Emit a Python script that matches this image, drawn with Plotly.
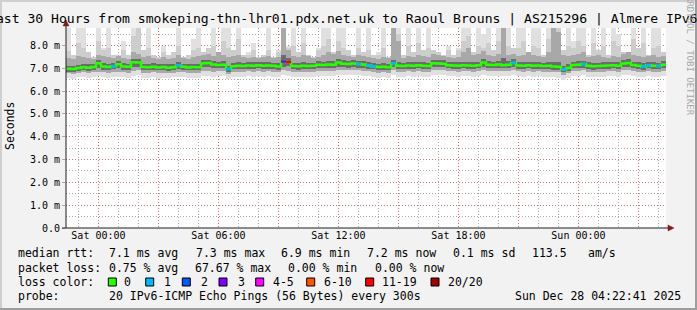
import plotly.graph_objects as go
import pandas as pd

TITLE = "Last 30 Hours from smokeping-thn-lhr01.pdx.net.uk to Raoul Brouns | AS215296 | Almere IPv6"
START = "2025-12-26 22:22:41"
END_LABEL = "Sun Dec 28 04:22:41 2025"

# ---------------- data (ms), one value per 15 minute step ----------------
median = [6.98, 6.97, 7.02, 7.05, 7.03, 7.06, 7.22, 7.08, 7.06, 7.09,
          7.18, 7.08, 7.07, 7.27, 7.26, 7.06, 7.05, 7.07, 7.04, 7.06,
          7.03, 7.05, 7.13, 7.07, 7.04, 7.06, 7.05, 7.22, 7.23, 7.17,
          7.15, 7.16, 6.97, 7.09, 7.11, 7.10, 7.13, 7.12, 7.14, 7.12,
          7.13, 7.11, 7.08, 7.30, 7.28, 7.10, 7.09, 7.12, 7.10, 7.11,
          7.16, 7.15, 7.17, 7.16, 7.26, 7.20, 7.19, 7.21, 7.19, 7.17,
          7.13, 7.09, 7.06, 7.07, 7.05, 7.22, 7.12, 7.10, 7.13, 7.11,
          7.14, 7.12, 7.10, 7.22, 7.21, 7.20, 7.14, 7.13, 7.12, 7.14,
          7.13, 7.12, 7.14, 7.26, 7.16, 7.15, 7.17, 7.14, 7.16, 7.24,
          7.13, 7.12, 7.14, 7.11, 7.13, 7.10, 7.12, 7.08, 7.07, 6.96,
          7.02, 7.15, 7.16, 7.19, 7.11, 7.09, 7.10, 7.12, 7.13, 7.14,
          7.12, 7.21, 7.24, 7.15, 7.11, 7.08, 7.14, 7.12, 7.10, 7.16]

loss = [0, 0, 0, 0, 0, 0, 0, 0, 0, 1, 0, 0, 0, 0, 0, 0, 0, 0, 0, 0,
        0, 0, 1, 0, 0, 0, 0, 0, 0, 0, 0, 0, 1, 0, 0, 0, 0, 0, 0, 0,
        0, 0, 0, 3, 15, 0, 0, 0, 0, 0, 0, 0, 0, 0, 0, 0, 0, 0, 1, 0,
        1, 1, 0, 0, 0, 1, 0, 0, 0, 0, 0, 0, 0, 0, 0, 0, 0, 0, 0, 0,
        0, 0, 0, 0, 0, 0, 0, 0, 0, 1, 0, 0, 0, 0, 0, 0, 0, 0, 0, 1,
        0, 0, 0, 1, 0, 0, 0, 0, 0, 0, 0, 0, 0, 0, 0, 1, 1, 0, 1, 0]

q_25 = [6.86, 6.84, 6.90, 6.92, 6.90, 6.93, 7.02, 6.95, 6.93, 6.96,
        7.00, 6.95, 6.94, 7.06, 7.08, 6.93, 6.92, 6.94, 6.91, 6.93,
        6.90, 6.92, 6.98, 6.94, 6.91, 6.93, 6.92, 7.04, 7.05, 7.01,
        7.00, 7.01, 6.84, 6.96, 6.98, 6.97, 6.99, 6.98, 7.00, 6.98,
        6.99, 6.97, 6.95, 7.08, 7.10, 6.96, 6.95, 6.98, 6.96, 6.97,
        7.01, 7.00, 7.02, 7.01, 7.08, 7.04, 7.03, 7.05, 7.03, 7.02,
        6.99, 6.96, 6.93, 6.94, 6.92, 7.05, 6.98, 6.96, 6.99, 6.97,
        7.00, 6.98, 6.96, 7.05, 7.05, 7.04, 7.00, 6.99, 6.98, 7.00,
        6.99, 6.98, 7.00, 7.08, 7.01, 7.00, 7.02, 7.00, 7.01, 7.06,
        6.99, 6.98, 7.00, 6.97, 6.99, 6.96, 6.98, 6.95, 6.94, 6.83,
        6.89, 7.00, 7.01, 7.03, 6.97, 6.95, 6.96, 6.98, 6.99, 7.00,
        6.98, 7.04, 7.06, 7.00, 6.97, 6.94, 7.00, 6.98, 6.96, 7.01]

q_75 = [7.12, 7.11, 7.16, 7.20, 7.17, 7.21, 7.36, 7.22, 7.20, 7.24,
        7.32, 7.22, 7.21, 7.42, 7.40, 7.20, 7.19, 7.22, 7.18, 7.20,
        7.17, 7.20, 7.28, 7.21, 7.18, 7.20, 7.19, 7.37, 7.38, 7.31,
        7.29, 7.31, 7.12, 7.23, 7.26, 7.24, 7.28, 7.26, 7.29, 7.26,
        7.27, 7.25, 7.22, 7.60, 7.45, 7.24, 7.23, 7.27, 7.24, 7.25,
        7.31, 7.30, 7.33, 7.31, 7.41, 7.35, 7.34, 7.36, 7.34, 7.32,
        7.28, 7.24, 7.20, 7.22, 7.19, 7.38, 7.27, 7.25, 7.28, 7.26,
        7.29, 7.27, 7.25, 7.37, 7.36, 7.35, 7.29, 7.28, 7.27, 7.29,
        7.28, 7.27, 7.29, 7.42, 7.31, 7.30, 7.33, 7.45, 7.31, 7.39,
        7.28, 7.27, 7.29, 7.26, 7.28, 7.25, 7.28, 7.30, 7.26, 7.11,
        7.17, 7.30, 7.31, 7.34, 7.26, 7.24, 7.25, 7.27, 7.28, 7.29,
        7.27, 7.36, 7.39, 7.30, 7.26, 7.23, 7.29, 7.27, 7.25, 7.31]

q_lo = [6.78, 6.76, 6.80, 6.82, 6.79, 6.83, 6.86, 6.84, 6.81, 6.83, 6.86, 6.82, 6.81, 6.90, 6.92, 6.80, 6.79, 6.82, 6.78, 6.80,
        6.79, 6.81, 6.86, 6.82, 6.79, 6.81, 6.80, 6.88, 6.90, 6.86, 6.87, 6.88, 6.74, 6.84, 6.86, 6.85, 6.87, 6.86, 6.88, 6.86,
        6.87, 6.85, 6.83, 6.92, 6.90, 6.84, 6.83, 6.86, 6.84, 6.85, 6.89, 6.88, 6.90, 6.89, 6.95, 6.92, 6.91, 6.93, 6.91, 6.90,
        6.87, 6.84, 6.81, 6.82, 6.80, 6.92, 6.86, 6.84, 6.87, 6.85, 6.88, 6.86, 6.84, 6.92, 6.92, 6.91, 6.88, 6.87, 6.86, 6.88,
        6.87, 6.86, 6.88, 6.94, 6.89, 6.88, 6.90, 6.87, 6.89, 6.93, 6.87, 6.86, 6.88, 6.85, 6.87, 6.84, 6.86, 6.83, 6.82, 6.72,
        6.78, 6.88, 6.89, 6.91, 6.85, 6.83, 6.84, 6.86, 6.87, 6.88, 6.86, 6.92, 6.94, 6.88, 6.85, 6.82, 6.88, 6.86, 6.84, 6.89]

q_hi = [7.45, 7.40, 7.55, 7.50, 7.45, 7.40, 7.60, 7.55, 7.50, 7.45, 7.55, 7.45, 7.40, 7.70, 7.65, 7.50, 7.55, 7.45, 7.40, 7.50,
        7.42, 7.45, 7.60, 7.45, 7.40, 7.50, 7.55, 7.60, 7.65, 7.55, 7.70, 7.60, 7.50, 7.55, 7.60, 7.50, 7.45, 7.50, 7.45, 7.50,
        7.55, 7.45, 7.50, 8.80, 7.80, 7.55, 7.50, 7.60, 7.55, 7.45, 7.50, 7.60, 7.70, 7.65, 7.75, 7.60, 7.55, 7.50, 7.60, 7.55,
        7.50, 7.45, 7.40, 7.50, 7.45, 8.80, 8.20, 7.45, 7.55, 7.50, 7.60, 7.55, 7.50, 7.65, 7.60, 7.55, 7.50, 7.45, 7.50, 7.70,
        7.90, 7.60, 7.65, 7.75, 7.60, 7.55, 7.65, 8.80, 7.60, 7.65, 7.55, 7.60, 7.70, 7.60, 7.55, 7.50, 7.70, 8.80, 8.60, 7.60,
        7.55, 7.60, 7.65, 7.70, 7.50, 7.55, 7.60, 7.50, 7.45, 7.55, 7.50, 7.65, 7.70, 7.60, 7.55, 7.50, 7.55, 7.60, 7.50, 7.55]

q_hi2 = [7.75, 7.6, 8.1, 7.9, 7.7, 7.5, 8.2, 7.8, 7.9, 7.6, 7.6, 7.8, 7.6, 8.4, 8.8, 7.8, 7.9, 7.6, 7.5, 7.7,
         7.6, 7.7, 8.0, 7.5, 7.6, 7.8, 7.9, 7.7, 7.9, 8.0, 7.7, 8.2, 7.9, 7.8, 8.3, 7.6, 7.6, 7.8, 7.5, 7.6,
         7.8, 7.5, 7.7, 8.8, 7.9, 8.0, 7.7, 8.1, 7.6, 7.5, 7.8, 8.0, 8.3, 7.7, 8.2, 7.9, 7.8, 7.6, 7.9, 7.7,
         7.8, 7.6, 7.6, 7.9, 7.5, 8.8, 8.5, 7.6, 8.0, 7.7, 8.1, 7.8, 7.9, 7.8, 7.7, 7.6, 7.8, 7.6, 7.8, 8.2,
         8.4, 7.7, 8.0, 7.9, 8.1, 7.8, 8.2, 8.8, 8.0, 7.9, 7.9, 8.2, 7.7, 8.0, 7.9, 7.6, 8.3, 8.8, 8.8, 7.8,
         8.0, 7.9, 8.2, 8.0, 7.6, 8.1, 7.8, 8.0, 7.6, 8.2, 8.0, 7.7, 7.6, 8.3, 7.9, 8.1, 7.6, 7.9, 8.0, 7.7]

q_min = [6.58, 6.55, 6.60, 6.62, 6.57, 6.63, 6.66, 6.62, 6.59, 6.61, 6.64, 6.60, 6.58, 6.68, 6.70, 6.58, 6.56, 6.60, 6.55, 6.58,
         6.57, 6.60, 6.64, 6.60, 6.56, 6.59, 6.58, 6.66, 6.68, 6.64, 6.65, 6.66, 6.52, 6.62, 6.64, 6.63, 6.66, 6.64, 6.66, 6.64,
         6.65, 6.63, 6.60, 6.70, 6.66, 6.62, 6.61, 6.64, 6.62, 6.63, 6.67, 6.66, 6.68, 6.67, 6.72, 6.70, 6.69, 6.71, 6.69, 6.68,
         6.65, 6.62, 6.58, 6.60, 6.58, 6.70, 6.64, 6.62, 6.65, 6.63, 6.66, 6.64, 6.62, 6.70, 6.70, 6.69, 6.66, 6.65, 6.64, 6.66,
         6.65, 6.64, 6.66, 6.72, 6.67, 6.66, 6.68, 6.65, 6.67, 6.70, 6.65, 6.64, 6.66, 6.63, 6.65, 6.62, 6.64, 6.60, 6.59, 6.50,
         6.56, 6.66, 6.67, 6.69, 6.63, 6.61, 6.62, 6.64, 6.65, 6.66, 6.64, 6.70, 6.72, 6.66, 6.63, 6.60, 6.66, 6.64, 6.62, 6.67]

q_max = [8.8, 7.6, 8.8, 8.8, 7.7, 7.5, 8.8, 7.9, 8.8, 7.6, 7.5, 8.2, 7.6, 8.8, 8.8, 7.8, 8.8, 7.6, 7.5, 8.0,
         7.6, 7.7, 8.8, 7.5, 7.6, 8.3, 8.8, 7.6, 7.9, 8.8, 7.7, 8.8, 8.8, 7.8, 8.8, 7.6, 7.7, 8.1, 7.5, 7.6,
         8.8, 7.5, 7.8, 8.8, 8.0, 8.8, 7.7, 8.8, 7.6, 7.5, 7.9, 8.8, 8.8, 7.7, 8.8, 8.8, 7.8, 7.6, 8.8, 7.7,
         8.8, 7.6, 7.7, 8.8, 7.5, 8.8, 8.8, 7.6, 8.8, 7.7, 8.8, 7.8, 8.8, 7.6, 7.7, 7.5, 8.0, 7.6, 7.9, 8.8,
         8.8, 7.7, 8.8, 8.5, 8.8, 7.8, 8.8, 8.8, 8.8, 7.9, 8.8, 8.8, 7.7, 8.8, 8.8, 7.6, 8.8, 8.8, 8.8, 7.8,
         8.8, 8.2, 8.8, 8.8, 7.6, 8.8, 7.8, 8.8, 7.6, 8.8, 8.5, 7.7, 7.6, 8.8, 7.9, 8.8, 7.6, 8.8, 8.8, 7.7]

y_tickvals = [0, 1, 2, 3, 4, 5, 6, 7, 8]
y_ticktext = ["0.0", "1.0 m", "2.0 m", "3.0 m", "4.0 m", "5.0 m", "6.0 m", "7.0 m", "8.0 m"]
x_tickvals = ["2025-12-27 00:00", "2025-12-27 03:00", "2025-12-27 06:00", "2025-12-27 09:00",
              "2025-12-27 12:00", "2025-12-27 15:00", "2025-12-27 18:00", "2025-12-27 21:00",
              "2025-12-28 00:00", "2025-12-28 03:00"]
x_ticktext = ["Sat 00:00", "", "Sat 06:00", "", "Sat 12:00", "", "Sat 18:00", "", "Sun 00:00", ""]

loss_bins = [(0, 0, "0", "#26ff00"), (1, 1, "1", "#00b8ff"), (2, 2, "2", "#0059ff"),
             (3, 3, "3", "#7e00ff"), (4, 5, "4-5", "#ff00ff"), (6, 10, "6-10", "#ff5500"),
             (11, 19, "11-19", "#ff0000"), (20, 20, "20/20", "#a10000")]

stats_rows = [
    [(16, "median rtt:"), (107.3, "7.1 ms avg"), (194, "7.3 ms max"), (279.3, "6.9 ms min"),
     (365, "7.2 ms now"), (451, "0.1 ms sd"), (530, "113.5"), (586, "am/s")],
    [(16, "packet loss:"), (107.3, "0.75 % avg"), (193.3, "67.67 % max"), (286, "0.00 % min"),
     (372.7, "0.00 % now")],
    [(16, "loss color:")],
    [(16, "probe:"), (107.3, "20 IPv6-ICMP Echo Pings (56 Bytes) every 300s"), (513.3, END_LABEL)],
]
row_y = [253.3, 268.3, 282, 296.3]
legend_box_x = [108.3, 145.7, 182.3, 219, 255.7, 306.7, 365.7, 431]
legend_lbl_x = [121.7, 161.7, 199, 235.7, 271, 321.7, 380, 445.7]

# ---------------- geometry helpers (pixel -> paper) ----------------
L, R, T, B = 66, 31, 28, 82
W, H = 697, 310
PW, PH = W - L - R, H - T - B


def px(x):
    return (x - L) / PW


def py(y):
    return (H - B - y) / PH


def loss_color(v):
    for lo, hi, _, c in loss_bins:
        if lo <= v <= hi:
            return c
    return "#a10000"


n = len(median)
times = pd.date_range(START, periods=n + 1, freq="15min")
starts = times[:-1]
centers = starts + pd.Timedelta(minutes=7.5)
step_ms = 15 * 60 * 1000

fig = go.Figure()

layers = [(q_min, q_max, "#e0e0e0"), (q_lo, q_hi2, "#cdcdcd"),
          (q_lo, q_hi, "#a8a8a8"), (q_25, q_75, "#6c6c6c")]
for lo, hi, col in layers:
    fig.add_trace(go.Bar(x=centers, base=lo, y=[h - l for l, h in zip(lo, hi)],
                         width=step_ms, marker=dict(color=col, line=dict(width=0)),
                         hoverinfo="skip"))

# median line (green), then loss-coloured segments on top
fig.add_trace(go.Scatter(x=list(times), y=median + [median[-1]], mode="lines",
                         line=dict(color="#26ff00", width=2.5, shape="hv"), hoverinfo="skip"))
seg = {}
for i, (m, l) in enumerate(zip(median, loss)):
    if l > 0:
        c = loss_color(l)
        xs, ys = seg.setdefault(c, ([], []))
        xs += [times[i], times[i + 1], None]
        ys += [m, m, None]
for c, (xs, ys) in seg.items():
    fig.add_trace(go.Scatter(x=xs, y=ys, mode="lines", line=dict(color=c, width=2.5),
                             hoverinfo="skip"))

GRID = "rgba(143,143,143,0.75)"
MGRID = "rgba(222,79,79,0.6)"
DASH = "1px,2px"

fig.update_xaxes(type="date", range=[times[0], times[-1]], tickmode="array",
                 tickvals=x_tickvals, ticktext=x_ticktext,
                 showgrid=True, gridcolor=MGRID, griddash=DASH, gridwidth=1,
                 ticks="", zeroline=False, showline=False,
                 tickfont=dict(family="DejaVu Sans Mono", size=10, color="#000"),
                 minor=dict(dtick=3600000, tick0="2025-12-27 00:00", showgrid=True,
                            gridcolor=GRID, griddash=DASH, gridwidth=1))
fig.update_yaxes(range=[0, 8.77], tickmode="array", tickvals=y_tickvals, ticktext=y_ticktext,
                 showgrid=True, gridcolor=MGRID, griddash=DASH, gridwidth=1,
                 ticks="outside", ticklen=3, tickcolor=MGRID, zeroline=False, showline=False,
                 tickfont=dict(family="DejaVu Sans Mono", size=10, color="#000"),
                 minor=dict(dtick=0.5, tick0=0, showgrid=True, gridcolor=GRID,
                            griddash=DASH, gridwidth=1))

shapes = []
# frame shading
shapes.append(dict(type="rect", xref="paper", yref="paper", x0=px(0), x1=px(697), y0=py(0), y1=py(2),
                   fillcolor="#cfcfcf", line=dict(width=0), layer="above"))
shapes.append(dict(type="rect", xref="paper", yref="paper", x0=px(0), x1=px(2), y0=py(0), y1=py(310),
                   fillcolor="#cfcfcf", line=dict(width=0), layer="above"))
shapes.append(dict(type="rect", xref="paper", yref="paper", x0=px(0), x1=px(697), y0=py(308), y1=py(310),
                   fillcolor="#9e9e9e", line=dict(width=0), layer="above"))
shapes.append(dict(type="rect", xref="paper", yref="paper", x0=px(695), x1=px(697), y0=py(0), y1=py(310),
                   fillcolor="#9e9e9e", line=dict(width=0), layer="above"))
# axes
shapes.append(dict(type="line", xref="paper", yref="paper", x0=px(66), x1=px(66), y0=py(228), y1=py(22),
                   line=dict(color="#1f1f1f", width=1), layer="above"))
shapes.append(dict(type="line", xref="paper", yref="paper", x0=px(62), x1=px(669), y0=py(228), y1=py(228),
                   line=dict(color="#1f1f1f", width=1), layer="above"))
# arrows
shapes.append(dict(type="path", xref="paper", yref="paper",
                   path=f"M {px(66)},{py(20)} L {px(63)},{py(26)} L {px(69)},{py(26)} Z",
                   fillcolor="#801f1f", line=dict(color="#801f1f", width=0.5), layer="above"))
shapes.append(dict(type="path", xref="paper", yref="paper",
                   path=f"M {px(674)},{py(228)} L {px(668)},{py(225)} L {px(668)},{py(231)} Z",
                   fillcolor="#801f1f", line=dict(color="#801f1f", width=0.5), layer="above"))
# loss legend boxes
for bx, (_, _, _, c) in zip(legend_box_x, loss_bins):
    shapes.append(dict(type="rect", xref="paper", yref="paper", x0=px(bx), x1=px(bx + 8),
                       y0=py(row_y[2] - 4), y1=py(row_y[2] + 4),
                       fillcolor=c, line=dict(color="#000", width=1), layer="above"))

annotations = []
MONO = "DejaVu Sans Mono"
# title (wider than the image, as in the original; its first letter falls off-canvas)
annotations.append(dict(xref="paper", yref="paper", x=px(-14.2), y=py(18.5), text=TITLE,
                        showarrow=False, xanchor="left", yanchor="middle",
                        font=dict(family=MONO, size=13.1, color="#000")))
for yy, row in zip(row_y, stats_rows):
    for xx, txt in row:
        annotations.append(dict(xref="paper", yref="paper", x=px(xx), y=py(yy), text=txt,
                                showarrow=False, xanchor="left", yanchor="middle",
                                font=dict(family=MONO, size=11.5, color="#000")))
for xx, (_, _, lbl, _) in zip(legend_lbl_x, loss_bins):
    annotations.append(dict(xref="paper", yref="paper", x=px(xx), y=py(row_y[2]), text=lbl,
                            showarrow=False, xanchor="left", yanchor="middle",
                            font=dict(family=MONO, size=11.5, color="#000")))
annotations.append(dict(xref="paper", yref="paper", x=px(10), y=py(126), text="Seconds",
                        textangle=-90, showarrow=False, xanchor="center", yanchor="middle",
                        font=dict(family=MONO, size=11.5, color="#000")))
annotations.append(dict(xref="paper", yref="paper", x=px(690), y=py(56), text="RRDTOOL / TOBI OETIKER",
                        textangle=90, showarrow=False, xanchor="center", yanchor="middle",
                        font=dict(family=MONO, size=9, color="#a8a8a8")))

fig.update_layout(
    width=W, height=H, margin=dict(l=L, r=R, t=T, b=B),
    paper_bgcolor="#f2f2f2", plot_bgcolor="#ffffff",
    barmode="overlay", bargap=0, showlegend=False,
    shapes=shapes, annotations=annotations,
)

fig.write_html("out.html")
